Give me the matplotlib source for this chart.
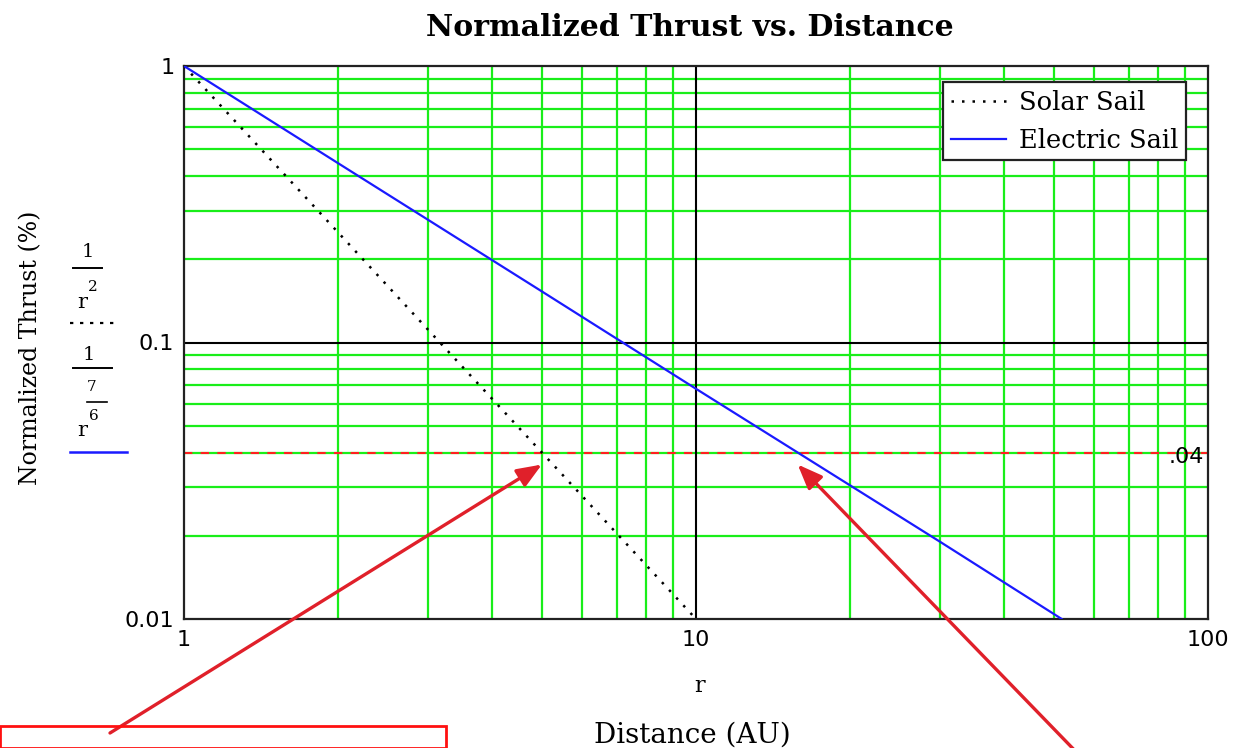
import matplotlib
matplotlib.use("Agg")
import matplotlib.pyplot as plt
from matplotlib.lines import Line2D
from matplotlib.patches import Rectangle
from matplotlib.ticker import FixedLocator, NullFormatter
from matplotlib.transforms import offset_copy

plt.rcParams['font.family'] = ['DejaVu Serif']

# ---- data ----
solar_r = [1, 2, 3, 5, 10]
solar_thrust = [1.0, 0.25, 0.111, 0.04, 0.01]
electric_r = [1, 2, 5, 10, 15.8, 30, 51.8]
electric_thrust = [1.0, 0.445, 0.153, 0.068, 0.04, 0.019, 0.01]
ref_level = 0.04
ref_label = '.04'
target_points_r = [5.0, 15.8]
x_ticks = [1, 10, 100]
x_tick_labels = ["1", "10", "100"]
y_ticks = [0.01, 0.1, 1]
y_tick_labels = ["0.01", "0.1", "1"]
series_names = ["Solar Sail", "Electric Sail"]

W, H = 1234, 748
fig = plt.figure(figsize=(W / 100, H / 100), dpi=100)
L, R, T, B = 184, 1208, 66, 619
ax = fig.add_axes([L / W, 1 - B / H, (R - L) / W, (B - T) / H])
ax.set_xscale('log')
ax.set_yscale('log')
ax.set_xlim(1, 100)
ax.set_ylim(0.01, 1)

green = '#19ee19'
for dec in [1, 10]:
    for m in range(2, 10):
        ax.axvline(dec * m, color=green, lw=1.6, zorder=1)
for dec in [0.01, 0.1]:
    for m in range(2, 10):
        ax.axhline(dec * m, color=green, lw=1.6, zorder=1)
ax.axvline(10, color='black', lw=1.5, zorder=1.5)
ax.axhline(0.1, color='black', lw=1.5, zorder=1.5)

ax.axhline(ref_level, color='#ff2020', lw=1.5, ls=(0, (4, 4)), zorder=2)
ax.text(0.996, ref_level * 0.965, ref_label, ha='right', va='center',
        fontsize=16, family=['DejaVu Sans'],
        transform=ax.get_yaxis_transform(), zorder=5)

ax.plot(solar_r, solar_thrust, color='black', lw=1.8, ls=(0, (1, 3.2)),
        label=series_names[0], zorder=3)
ax.plot(electric_r, electric_thrust, color='#1a1aff', lw=1.6,
        label=series_names[1], zorder=3)

for s in ax.spines.values():
    s.set_linewidth(1.6)
    s.set_color('#222222')

ax.xaxis.set_major_locator(FixedLocator(x_ticks))
ax.yaxis.set_major_locator(FixedLocator(y_ticks))
ax.xaxis.set_minor_formatter(NullFormatter())
ax.yaxis.set_minor_formatter(NullFormatter())
ax.set_xticklabels(x_tick_labels, fontsize=16, family=['DejaVu Sans'])
ax.set_yticklabels(y_tick_labels, fontsize=16, family=['DejaVu Sans'])
ax.tick_params(which='both', length=0, pad=8)
ax.tick_params(axis='y', pad=7)

leg = ax.legend(loc='upper right', bbox_to_anchor=(0.9785, 0.971), fontsize=18.5,
                frameon=True, fancybox=False, edgecolor='#222222',
                handlelength=2.15, borderpad=0.3, labelspacing=0.5,
                handletextpad=0.5, borderaxespad=0)
leg.get_frame().set_linewidth(1.6)
leg.get_frame().set_alpha(1)

fig.text(690 / W, 1 - 27 / H, 'Normalized Thrust vs. Distance', ha='center',
         va='center', fontsize=21.5, fontweight='bold')
fig.text(700 / W, 1 - 686 / H, 'r', ha='center', va='center', fontsize=16)
fig.text(692 / W, 1 - 735 / H, 'Distance (AU)', ha='center', va='center',
         fontsize=20)
fig.text(31 / W, 1 - 348 / H, 'Normalized Thrust (%)', ha='center',
         va='center', rotation=90, fontsize=17)


def ftext(x, y, s, size):
    fig.text(x / W, 1 - y / H, s, ha='center', va='center', fontsize=size)


def fline(x0, x1, y, **kw):
    fig.add_artist(Line2D([x0 / W, x1 / W], [1 - y / H] * 2,
                          transform=fig.transFigure, **kw))


# 1 / r^2
ftext(88, 252, '1', 14)
fline(73, 102, 268, color='black', lw=1.4)
ftext(82, 302, 'r', 15)
ftext(93, 287, '2', 11)
fline(70, 116, 323, color='black', lw=1.6, ls=(0, (1.5, 3)))
# 1 / r^(7/6)
ftext(89, 355, '1', 14)
fline(73, 112, 368, color='black', lw=1.4)
ftext(92, 387, '7', 11)
fline(87, 107, 402, color='black', lw=1.2)
ftext(94, 416, '6', 11)
ftext(82, 430, 'r', 15)
fline(70, 127, 452, color='#1a1aff', lw=1.8)

red = '#e0202a'
fig.add_artist(Rectangle((0, 0), 446 / W, 1 - 733 / H + 0.01, fill=False,
                         edgecolor='#ff1010', lw=2, transform=fig.transFigure,
                         clip_on=False))
tip_trans = offset_copy(ax.transData, fig=fig, x=0, y=-12, units='dots')
tails = [(110, 733), (1084, 760)]
for r, (tx, ty) in zip(target_points_r, tails):
    ax.annotate('', xy=(r, ref_level), xycoords=tip_trans,
                xytext=(tx / W, 1 - ty / H), textcoords='figure fraction',
                arrowprops=dict(arrowstyle='-|>,head_length=1.5,head_width=0.6',
                                color=red, lw=2.4, shrinkA=0, shrinkB=0),
                annotation_clip=False)

fig.savefig('out.png', dpi=100)
